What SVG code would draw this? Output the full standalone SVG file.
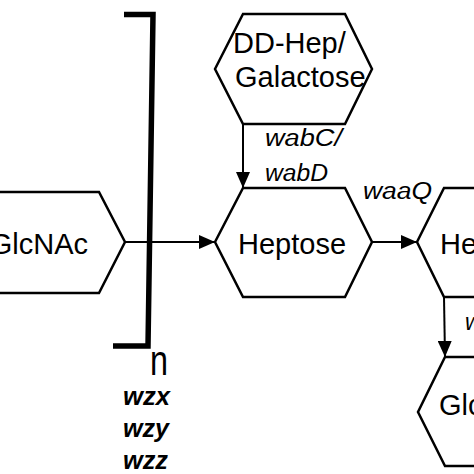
<svg xmlns="http://www.w3.org/2000/svg" width="474" height="474" viewBox="0 0 474 474">
<defs>
<style>
.hex{fill:#fff;stroke:#000;stroke-width:2.5;stroke-linejoin:miter}
.con{stroke:#000;stroke-width:2;fill:none}
.lbl{font-family:"Liberation Sans",Arial,sans-serif;font-size:29px;fill:#000}
.gene{font-family:"Liberation Sans",Arial,sans-serif;font-size:23px;font-style:italic;fill:#000}
.geneb{font-family:"Liberation Sans",Arial,sans-serif;font-size:25px;font-style:italic;font-weight:bold;fill:#000}
</style>
<marker id="arr" markerUnits="userSpaceOnUse" markerWidth="16" markerHeight="14" refX="16" refY="7" orient="auto">
<path d="M0,0 L16,7 L0,14 z" fill="#000"/>
</marker>
</defs>
<rect width="474" height="474" fill="#fff"/>
<g id="bracket">
<path d="M124,14.5 L153,14.5 L148,346 L113,346" fill="none" stroke="#000" stroke-width="5.5" stroke-linejoin="miter"/>
<text x="150" y="375" font-family="Liberation Sans, Arial, sans-serif" font-size="42" textLength="18" lengthAdjust="spacingAndGlyphs">n</text>
<text class="geneb" x="123" y="405" textLength="47" lengthAdjust="spacingAndGlyphs">wzx</text>
<text class="geneb" x="123" y="437" textLength="46" lengthAdjust="spacingAndGlyphs">wzy</text>
<text class="geneb" x="123" y="469" textLength="45" lengthAdjust="spacingAndGlyphs">wzz</text>
</g>
<g id="connectors">
<line class="con" x1="125" y1="242" x2="215" y2="242" marker-end="url(#arr)"/>
<line class="con" x1="243" y1="124" x2="243" y2="188" marker-end="url(#arr)"/>
<line class="con" x1="372" y1="242" x2="417" y2="242" marker-end="url(#arr)"/>
<line class="con" x1="444" y1="297" x2="445" y2="357" marker-end="url(#arr)"/>
<text class="gene" x="265" y="146" textLength="77" lengthAdjust="spacingAndGlyphs">wabC/</text>
<text class="gene" x="265" y="181" textLength="63" lengthAdjust="spacingAndGlyphs">wabD</text>
<text class="gene" x="363" y="199" textLength="69" lengthAdjust="spacingAndGlyphs">waaQ</text>
<text class="gene" x="465" y="330">w</text>
</g>
<g id="glcnac">
<polyline class="hex" points="-10,192 99,192 125,242 99,293 -10,293"/>
<text class="lbl" x="88" y="254" text-anchor="end">GlcNAc</text>
</g>
<g id="ddhep">
<polygon class="hex" points="215,69 243,14 345,14 372,69 345,124 243,124"/>
<text class="lbl" x="233" y="53">DD-Hep/</text>
<text class="lbl" x="235" y="87">Galactose</text>
</g>
<g id="heptose">
<polygon class="hex" points="215,242 243,188 345,188 372,242 345,297 243,297"/>
<text class="lbl" x="238" y="254">Heptose</text>
</g>
<g id="hep2">
<polyline class="hex" points="490,188 444,188 417,242 444,297 490,297"/>
<text class="lbl" x="440" y="254">He</text>
</g>
<g id="glc">
<polyline class="hex" points="490,357 445,357 418,412 445,466 490,466"/>
<text class="lbl" x="439" y="415">Glc</text>
</g>
</svg>
